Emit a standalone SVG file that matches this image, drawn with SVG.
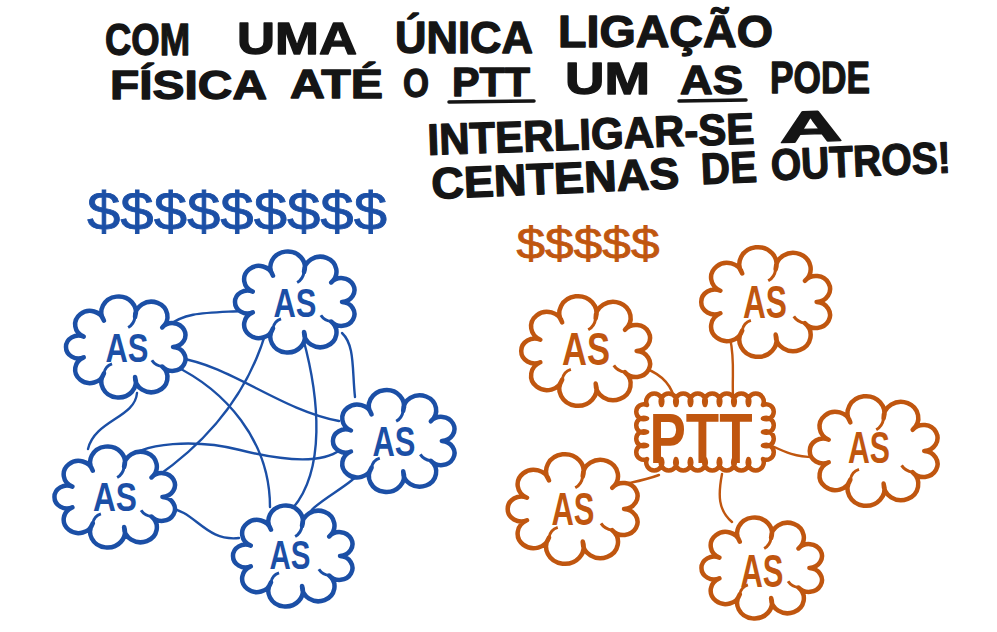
<svg xmlns="http://www.w3.org/2000/svg" xmlns:xlink="http://www.w3.org/1999/xlink" width="997" height="632" viewBox="0 0 997 632">
<style>
.t{font-family:"Liberation Sans","DejaVu Sans",sans-serif;font-weight:700;fill:#151515;stroke:#151515;stroke-width:1.3;stroke-linejoin:round;font-size:44px}
.t2{font-size:40px}
.b{stroke:#1b4fa6}
.o{stroke:#c0560f}
.fb{fill:#1b4fa6}
.fo{fill:#c0560f}
.cl{fill:#fff;stroke-width:4.5;stroke-linejoin:round}
.cn{fill:none;stroke-width:2.4;stroke-linecap:round}
.lb{font-family:"Liberation Sans","DejaVu Sans",sans-serif;font-weight:700;text-anchor:middle}
.dl{font-family:"Liberation Sans","DejaVu Sans",sans-serif;font-weight:400;text-anchor:middle;stroke-width:0.8}
.ul{stroke:#151515;stroke-width:3.5;stroke-linecap:round}
</style>
<defs>
<path id="cloud" vector-effect="non-scaling-stroke" d="M40,0 A11.4,11.4 0 1 1 30.6,18.6 A14.1,14.1 0 1 1 7,28.6 A15,15 0 1 1 -20,25.1 A12.8,12.8 0 1 1 -37.6,9.9 A10.9,10.9 0 1 1 -37.6,-9.9 A12.8,12.8 0 1 1 -20,-25.1 A15,15 0 1 1 7,-28.6 A14.1,14.1 0 1 1 30.6,-18.6 A11.4,11.4 0 1 1 40,0 Z"/>
<path id="curls" vector-effect="non-scaling-stroke" fill="none" d="M-20,25.1 q1,-7 7,-9 M7,-28.6 q-1,7 -6,10 M30.6,18.6 q-6,-1 -9,-6"/>
<path id="pttcloud" vector-effect="non-scaling-stroke" d="M-58,-27 a8,8 0 1 1 14.5,0 a8,8 0 1 1 14.5,0 a8,8 0 1 1 14.5,0 a8,8 0 1 1 14.5,0 a8,8 0 1 1 14.5,0 a8,8 0 1 1 14.5,0 a8,8 0 1 1 14.5,0 a8,8 0 1 1 14.5,0 a7.5,7.5 0 1 1 0,13.5 a7.5,7.5 0 1 1 0,13.5 a7.5,7.5 0 1 1 0,13.5 a7.5,7.5 0 1 1 0,13.5 a8,8 0 1 1 -14.5,0 a8,8 0 1 1 -14.5,0 a8,8 0 1 1 -14.5,0 a8,8 0 1 1 -14.5,0 a8,8 0 1 1 -14.5,0 a8,8 0 1 1 -14.5,0 a8,8 0 1 1 -14.5,0 a8,8 0 1 1 -14.5,0 a7.5,7.5 0 1 1 0,-13.5 a7.5,7.5 0 1 1 0,-13.5 a7.5,7.5 0 1 1 0,-13.5 a7.5,7.5 0 1 1 0,-13.5 Z"/>
</defs>

<g id="title">
<text class="t" x="105" y="55" textLength="85" lengthAdjust="spacingAndGlyphs">COM</text>
<text class="t" x="237" y="54" textLength="120" lengthAdjust="spacingAndGlyphs">UMA</text>
<text class="t" x="395" y="53" textLength="138" lengthAdjust="spacingAndGlyphs">ÚNICA</text>
<text class="t" x="558" y="47" font-size="40" textLength="215" lengthAdjust="spacingAndGlyphs">LIGAÇÃO</text>
<text class="t t2" x="110" y="99" textLength="157" lengthAdjust="spacingAndGlyphs">FÍSICA</text>
<text class="t t2" x="290" y="98" textLength="93" lengthAdjust="spacingAndGlyphs">ATÉ</text>
<text class="t t2" x="403" y="97" textLength="26" lengthAdjust="spacingAndGlyphs">O</text>
<text class="t t2" x="452" y="96" textLength="78" lengthAdjust="spacingAndGlyphs">PTT</text>
<line class="ul" x1="449" y1="102" x2="534" y2="101"/>
<text class="t" x="565" y="94" font-size="36" textLength="85" lengthAdjust="spacingAndGlyphs">UM</text>
<text class="t t2" x="680" y="94" textLength="63" lengthAdjust="spacingAndGlyphs">AS</text>
<line class="ul" x1="679" y1="101" x2="746" y2="100"/>
<text class="t" x="770" y="93" font-size="36" textLength="100" lengthAdjust="spacingAndGlyphs">PODE</text>
<g transform="rotate(-2 428 155)">
<text class="t" x="428" y="155" font-size="40" textLength="327" lengthAdjust="spacingAndGlyphs">INTERLIGAR-SE</text>
<text class="t" x="780" y="155" font-size="40" textLength="63" lengthAdjust="spacingAndGlyphs">A</text>
</g>
<g transform="rotate(-2.5 432 199)">
<text class="t" x="432" y="199" font-size="40" textLength="248" lengthAdjust="spacingAndGlyphs">CENTENAS</text>
<text class="t" x="702" y="196" font-size="40" textLength="56" lengthAdjust="spacingAndGlyphs">DE</text>
<text class="t" x="772" y="195" font-size="40" textLength="180" lengthAdjust="spacingAndGlyphs">OUTROS!</text>
</g>
</g>

<g id="cost-blue"><text class="dl fb b" x="237" y="230" font-size="54" textLength="300" lengthAdjust="spacingAndGlyphs">$$$$$$$$$</text></g>
<g id="cost-orange"><text class="dl fo o" x="588" y="259" font-size="44" textLength="143" lengthAdjust="spacingAndGlyphs">$$$$$</text></g>

<g id="connectors">
<g class="cn b">
<path d="M168,326 C185,312 205,313 242,311"/>
<path d="M178,358 C230,365 280,410 339,421"/>
<path d="M173,365 C225,390 270,440 270,507"/>
<path d="M137,393 C135,418 95,420 88,449"/>
<path d="M267,328 C250,390 210,440 155,478"/>
<path d="M303,338 C320,400 325,470 293,508"/>
<path d="M342,333 C355,345 352,370 355,397"/>
<path d="M123,463 C140,440 200,440 240,450 S320,465 340,450"/>
<path d="M168,508 C195,510 205,542 239,538"/>
<path d="M366,465 C350,490 310,500 302,525"/>
</g>
<g class="cn o">
<path d="M638,366 C660,372 670,383 674,397"/>
<path d="M730,338 C735,360 732,375 733,396"/>
<path d="M770,445 C785,452 795,457 814,457"/>
<path d="M659,475 C640,482 630,482 616,486"/>
<path d="M722,474 C718,495 718,510 732,522"/>
</g>
</g>

<g id="as-blue-top"><use xlink:href="#cloud" class="cl b" transform="translate(296,302) scale(1.15,1.05)"/><use xlink:href="#curls" class="b" stroke-width="3" transform="translate(296,302) scale(1.15,1.05)"/><text class="lb fb" x="295" y="317" font-size="40" textLength="43" lengthAdjust="spacingAndGlyphs">AS</text></g>
<g id="as-blue-left"><use xlink:href="#cloud" class="cl b" transform="translate(127,347) scale(1.15,1.05)"/><use xlink:href="#curls" class="b" stroke-width="3" transform="translate(127,347) scale(1.15,1.05)"/><text class="lb fb" x="127" y="362" font-size="40" textLength="43" lengthAdjust="spacingAndGlyphs">AS</text></g>
<g id="as-blue-right"><use xlink:href="#cloud" class="cl b" transform="translate(395,441) scale(1.17,1.06)"/><use xlink:href="#curls" class="b" stroke-width="3" transform="translate(395,441) scale(1.17,1.06)"/><text class="lb fb" x="394" y="456" font-size="42" textLength="43" lengthAdjust="spacingAndGlyphs">AS</text></g>
<g id="as-blue-botleft"><use xlink:href="#cloud" class="cl b" transform="translate(116,497) scale(1.16,1.05)"/><use xlink:href="#curls" class="b" stroke-width="3" transform="translate(116,497) scale(1.16,1.05)"/><text class="lb fb" x="115" y="511" font-size="40" textLength="44" lengthAdjust="spacingAndGlyphs">AS</text></g>
<g id="as-blue-bottom"><use xlink:href="#cloud" class="cl b" transform="translate(294,556) scale(1.15,1.05)"/><use xlink:href="#curls" class="b" stroke-width="3" transform="translate(294,556) scale(1.15,1.05)"/><text class="lb fb" x="290" y="569" font-size="40" textLength="41" lengthAdjust="spacingAndGlyphs">AS</text></g>

<g id="ptt"><use xlink:href="#pttcloud" class="cl o" transform="translate(705,432)"/><text class="lb fo" x="701" y="463" font-size="70" textLength="103" lengthAdjust="spacingAndGlyphs">PTT</text></g>
<g id="as-orange-top"><use xlink:href="#cloud" class="cl o" transform="translate(767,302) scale(1.24,1.14)"/><use xlink:href="#curls" class="o" stroke-width="3" transform="translate(767,302) scale(1.24,1.14)"/><text class="lb fo" x="765" y="318" font-size="46" textLength="44" lengthAdjust="spacingAndGlyphs">AS</text></g>
<g id="as-orange-left"><use xlink:href="#cloud" class="cl o" transform="translate(587,351) scale(1.24,1.14)"/><use xlink:href="#curls" class="o" stroke-width="3" transform="translate(587,351) scale(1.24,1.14)"/><text class="lb fo" x="586" y="365" font-size="46" textLength="48" lengthAdjust="spacingAndGlyphs">AS</text></g>
<g id="as-orange-right"><use xlink:href="#cloud" class="cl o" transform="translate(875,451) scale(1.23,1.14)"/><use xlink:href="#curls" class="o" stroke-width="3" transform="translate(875,451) scale(1.23,1.14)"/><text class="lb fo" x="869" y="463" font-size="44" textLength="42" lengthAdjust="spacingAndGlyphs">AS</text></g>
<g id="as-orange-botleft"><use xlink:href="#cloud" class="cl o" transform="translate(574,509) scale(1.25,1.14)"/><use xlink:href="#curls" class="o" stroke-width="3" transform="translate(574,509) scale(1.25,1.14)"/><text class="lb fo" x="573" y="525" font-size="46" textLength="43" lengthAdjust="spacingAndGlyphs">AS</text></g>
<g id="as-orange-bottom"><use xlink:href="#cloud" class="cl o" transform="translate(763,568) scale(1.16,1.05)"/><use xlink:href="#curls" class="o" stroke-width="3" transform="translate(763,568) scale(1.16,1.05)"/><text class="lb fo" x="762" y="587" font-size="46" textLength="43" lengthAdjust="spacingAndGlyphs">AS</text></g>
</svg>
